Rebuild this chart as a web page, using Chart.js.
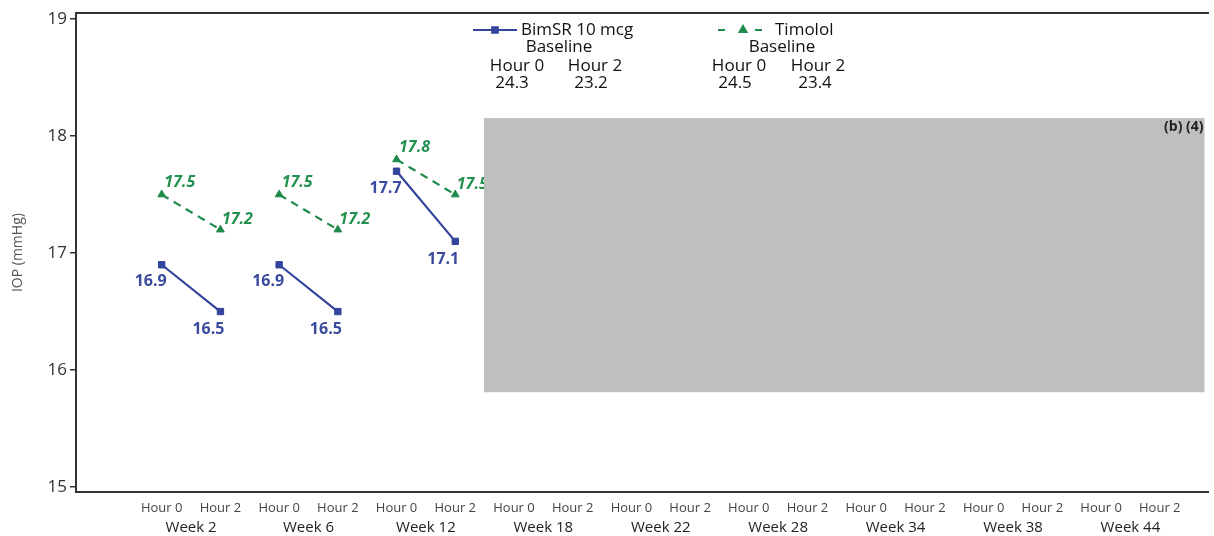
<!DOCTYPE html>
<html>
<head>
<meta charset="utf-8">
<script src="https://cdn.jsdelivr.net/npm/chart.js@4/dist/chart.umd.min.js"></script>
<style>
  html, body { margin: 0; padding: 0; background: #ffffff; }
  #wrap { width: 1214px; height: 536px; }
</style>
</head>
<body>
<div id="wrap"><canvas id="iop" width="1214" height="536"></canvas></div>
<script>
// Visits and time points
const weeks = ['Week 2', 'Week 6', 'Week 12', 'Week 18', 'Week 22', 'Week 28', 'Week 34', 'Week 38', 'Week 44'];
const hours = ['Hour 0', 'Hour 2'];

// Mean IOP (mmHg) by visit; later visits are withheld
const bimHour0 = [16.9, 16.9, 17.7, null, null, null, null, null, null];
const bimHour2 = [16.5, 16.5, 17.1, null, null, null, null, null, null];
const timHour0 = [17.5, 17.5, 17.8, null, null, null, null, null, null];
const timHour2 = [17.2, 17.2, 17.5, null, null, null, null, null, null];

// Baseline IOP at Hour 0 / Hour 2
const bimBaseline = [24.3, 23.2];
const timBaseline = [24.5, 23.4];

const seriesNames = ['BimSR 10 mcg', 'Timolol'];
const yTicks = [15, 16, 17, 18, 19];

// Withheld region, in axis units (x: time-point slot, y: mmHg)
const withheld = { xFrom: 6.49, xTo: 18.82, yFrom: 15.81, yTo: 18.154, note: '(b) (4)' };

const BLUE = '#33449c';
const GREEN = '#1f8a4c';
const FONT = '"Open Sans", "DejaVu Sans", sans-serif';

// Each visit owns two slots (Hour 0, Hour 2); a null point after each pair breaks the line
function toPoints(h0, h2) {
  const pts = [];
  weeks.forEach((w, i) => {
    pts.push({ x: 2 * i + 1, y: h0[i], h: 0 });
    pts.push({ x: 2 * i + 2, y: h2[i], h: 1 });
    pts.push({ x: 2 * i + 2.5, y: null, h: -1 });
  });
  return pts;
}

const hourTickValues = [];
const weekTickValues = [];
weeks.forEach((w, i) => {
  hourTickValues.push(2 * i + 1, 2 * i + 2);
  weekTickValues.push(2 * i + 1.5);
});

// Value labels beside each marker
const valueLabels = {
  id: 'valueLabels',
  afterDatasetsDraw(chart) {
    const ctx = chart.ctx;
    const style = [
      { color: '#3a4a9e', font: 'bold 16px ' + FONT, off: [[-11, 17], [-12, 18]] },
      { color: '#22904f', font: 'italic bold 16px ' + FONT, off: [[18, -12], [17, -10]] }
    ];
    ctx.save();
    ctx.textAlign = 'center';
    ctx.textBaseline = 'middle';
    chart.data.datasets.forEach((ds, di) => {
      const meta = chart.getDatasetMeta(di);
      const st = style[di];
      ctx.fillStyle = st.color;
      ctx.font = st.font;
      ds.data.forEach((p, i) => {
        if (p.y == null) return;
        const el = meta.data[i];
        const o = st.off[p.h];
        ctx.fillText(p.y.toFixed(1), el.x + o[0], el.y + o[1]);
      });
    });
    ctx.restore();
  }
};

// Shaded withheld block and its note
const withheldBlock = {
  id: 'withheldBlock',
  afterDraw(chart) {
    const ctx = chart.ctx;
    const xs = chart.scales.x, ys = chart.scales.y;
    const x0 = xs.getPixelForValue(withheld.xFrom);
    const x1 = Math.min(xs.getPixelForValue(withheld.xTo), chart.chartArea.right - 4);
    const y0 = ys.getPixelForValue(withheld.yTo);
    const y1 = ys.getPixelForValue(withheld.yFrom);
    ctx.save();
    ctx.fillStyle = '#bfbfbf';
    ctx.fillRect(x0, y0, x1 - x0, y1 - y0);
    ctx.fillStyle = '#222222';
    ctx.font = 'bold 14px ' + FONT;
    ctx.textAlign = 'right';
    ctx.textBaseline = 'top';
    ctx.fillText(withheld.note, x1 - 1, y0 + 2);
    ctx.restore();
  }
};

// Legend with baseline values under each series
const baselineLegend = {
  id: 'baselineLegend',
  afterDraw(chart) {
    const ctx = chart.ctx;
    const blocks = [
      { ds: 0, base: bimBaseline, line: [473, 517], dash: [], mark: 495, title: 521,
        baseX: 559, hourX: [517, 595], valX: [512, 591] },
      { ds: 1, base: timBaseline, line: [718, 762], dash: [7, 30], mark: 743, title: 775,
        baseX: 782, hourX: [739, 818], valX: [735, 815] }
    ];
    const rowY = [30, 47, 66, 83];
    ctx.save();
    blocks.forEach(b => {
      const ds = chart.data.datasets[b.ds];
      ctx.strokeStyle = ds.borderColor;
      ctx.lineWidth = 2;
      ctx.setLineDash(b.dash);
      ctx.beginPath();
      ctx.moveTo(b.line[0], rowY[0]);
      ctx.lineTo(b.line[1], rowY[0]);
      ctx.stroke();
      ctx.setLineDash([]);
      ctx.fillStyle = ds.borderColor;
      Chart.helpers.drawPoint(ctx, { pointStyle: ds.pointStyle, radius: 4, borderWidth: 1 }, b.mark, rowY[0]);
      ctx.fillStyle = '#111111';
      ctx.font = '17px ' + FONT;
      ctx.textBaseline = 'middle';
      ctx.textAlign = 'left';
      ctx.fillText(seriesNames[b.ds], b.title, rowY[0]);
      ctx.textAlign = 'center';
      ctx.fillText('Baseline', b.baseX, rowY[1]);
      hours.forEach((h, k) => ctx.fillText(h, b.hourX[k], rowY[2]));
      b.base.forEach((v, k) => ctx.fillText(v.toFixed(1), b.valX[k], rowY[3]));
    });
    ctx.restore();
  }
};

new Chart(document.getElementById('iop'), {
  type: 'line',
  data: {
    datasets: [
      {
        label: seriesNames[0],
        data: toPoints(bimHour0, bimHour2),
        borderColor: BLUE,
        backgroundColor: BLUE,
        borderWidth: 2.2,
        pointStyle: 'rect',
        pointRadius: 4.5,
        pointBorderWidth: 1,
        spanGaps: false
      },
      {
        label: seriesNames[1],
        data: toPoints(timHour0, timHour2),
        borderColor: GREEN,
        backgroundColor: GREEN,
        borderWidth: 2.2,
        borderDash: [8, 6],
        pointStyle: 'triangle',
        pointRadius: 4.5,
        pointBorderWidth: 1,
        spanGaps: false
      }
    ]
  },
  options: {
    responsive: false,
    animation: false,
    devicePixelRatio: 1,
    layout: { padding: { top: 13, right: 0, bottom: 0, left: 0 } },
    plugins: { legend: { display: false }, tooltip: { enabled: false } },
    scales: {
      x: {
        type: 'linear',
        position: 'bottom',
        min: -0.46,
        max: 18.83,
        grid: { display: false, drawTicks: false },
        border: { display: true, color: '#333333', width: 2 },
        afterBuildTicks: s => { s.ticks = hourTickValues.map(v => ({ value: v })); },
        afterFit: s => { s.height = 24; },
        ticks: {
          autoSkip: false,
          maxRotation: 0,
          padding: 8,
          color: '#444444',
          font: { family: FONT, size: 13 },
          callback: v => hours[(Math.round(v) - 1) % 2]
        }
      },
      xWeek: {
        type: 'linear',
        position: 'bottom',
        min: -0.46,
        max: 18.83,
        grid: { display: false, drawTicks: false },
        border: { display: false },
        afterBuildTicks: s => { s.ticks = weekTickValues.map(v => ({ value: v })); },
        afterFit: s => { s.height = 20; },
        ticks: {
          autoSkip: false,
          maxRotation: 0,
          padding: 3,
          color: '#222222',
          font: { family: FONT, size: 15 },
          callback: v => weeks[Math.round((v - 1.5) / 2)]
        }
      },
      xTop: {
        type: 'linear',
        position: 'top',
        min: -0.46,
        max: 18.83,
        grid: { display: false, drawTicks: false },
        border: { display: true, color: '#333333', width: 2 },
        ticks: { display: false },
        afterFit: s => { s.height = 0; }
      },
      y: {
        type: 'linear',
        min: 14.957,
        max: 19.051,
        afterBuildTicks: s => { s.ticks = yTicks.map(v => ({ value: v })); },
        afterFit: s => { s.width = 76; },
        grid: { drawOnChartArea: false, drawTicks: true, tickLength: 6, color: '#333333', lineWidth: 1.5 },
        border: { display: true, color: '#333333', width: 2 },
        ticks: { padding: 3, color: '#333333', font: { family: FONT, size: 17 } },
        title: {
          display: true,
          text: 'IOP (mmHg)',
          color: '#555555',
          font: { family: FONT, size: 14 },
          padding: { top: 10, bottom: 0 }
        }
      }
    }
  },
  plugins: [valueLabels, withheldBlock, baselineLegend]
});
</script>
</body>
</html>
